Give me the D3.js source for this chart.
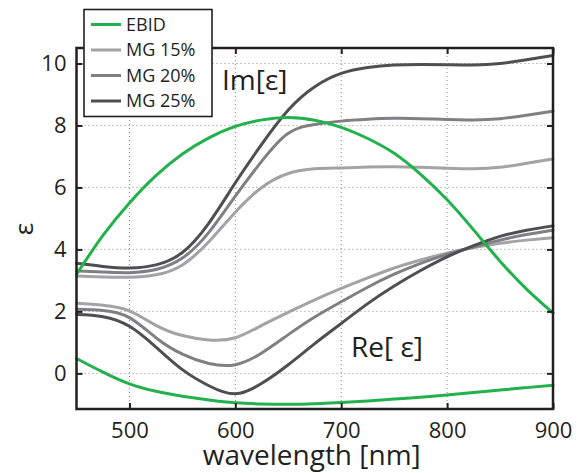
<!DOCTYPE html>
<html>
<head>
<meta charset="utf-8">
<script src="https://cdn.jsdelivr.net/npm/d3@7"></script>
<style>
  html, body { margin: 0; padding: 0; background: #fff; }
  svg { display: block; font-family: "Open Sans", sans-serif; }
</style>
</head>
<body>
<svg id="chart" width="579" height="473"></svg>
<script>
// ---- data ----
const wavelength = [450,475,500,525,550,575,600,625,650,675,700,725,750,775,800,825,850,875,900];

const ebidIm = [3.2,4.45,5.5,6.38,7.08,7.6,7.97,8.18,8.26,8.17,7.94,7.58,7.1,6.42,5.6,4.63,3.62,2.72,1.95];
const ebidRe = [0.48,0.04,-0.34,-0.58,-0.74,-0.86,-0.95,-0.99,-1.0,-0.98,-0.94,-0.89,-0.83,-0.77,-0.70,-0.62,-0.54,-0.46,-0.38];

const mg15Im = [3.14,3.11,3.10,3.18,3.5,4.25,5.2,6.0,6.45,6.6,6.63,6.66,6.67,6.65,6.62,6.6,6.65,6.78,6.92];
const mg20Im = [3.31,3.27,3.25,3.35,3.72,4.55,5.72,6.85,7.75,8.03,8.14,8.2,8.23,8.22,8.19,8.18,8.22,8.33,8.46];
const mg25Im = [3.55,3.45,3.40,3.5,3.9,4.85,6.15,7.4,8.5,9.25,9.68,9.87,9.95,9.97,9.96,9.95,10.0,10.12,10.26];

const mg15Re = [2.26,2.2,2.02,1.55,1.22,1.08,1.15,1.55,1.97,2.37,2.74,3.08,3.4,3.66,3.88,4.06,4.2,4.3,4.38];
const mg20Re = [2.07,2.03,1.8,1.15,0.62,0.32,0.28,0.66,1.25,1.82,2.31,2.78,3.2,3.55,3.84,4.08,4.3,4.48,4.62];
const mg25Re = [1.9,1.83,1.52,0.85,0.12,-0.4,-0.66,-0.32,0.28,0.96,1.61,2.25,2.82,3.32,3.76,4.12,4.42,4.62,4.76];

const xTicks = [500,600,700,800,900];
const yTicks = [0,2,4,6,8,10];
const legendLabels = ["EBID","MG 15%","MG 20%","MG 25%"];
const colors = ["#22b14c","#a3a3a5","#808083","#4f4f52"];

// ---- layout ----
const svg = d3.select("#chart");
const L = 76.5, R = 553, T = 48, B = 409;
const x = d3.scaleLinear().domain([450,900]).range([L,R]);
const y = d3.scaleLinear().domain([-1.15,10.5]).range([B,T]);
const ink = "#231f20";

// grid
const grid = svg.append("g");
grid.selectAll(".gx").data(xTicks.filter(d => d < 900)).enter().append("line")
  .attr("x1", d => x(d)).attr("x2", d => x(d)).attr("y1", T).attr("y2", B)
  .attr("stroke", "#8a8a8a").attr("stroke-width", 1).attr("stroke-dasharray", "1,3");
grid.selectAll(".gy").data(yTicks).enter().append("line")
  .attr("x1", L).attr("x2", R).attr("y1", d => y(d)).attr("y2", d => y(d))
  .attr("stroke", "#8a8a8a").attr("stroke-width", 1).attr("stroke-dasharray", "1,3");

// lines
const line = d3.line().x((d,i) => x(wavelength[i])).y(d => y(d)).curve(d3.curveNatural);
const series = [
  {v: ebidIm, c: 0}, {v: ebidRe, c: 0},
  {v: mg15Im, c: 1}, {v: mg15Re, c: 1},
  {v: mg20Im, c: 2}, {v: mg20Re, c: 2},
  {v: mg25Im, c: 3}, {v: mg25Re, c: 3}
];
const order = [2,3,4,5,6,7,0,1];
const lg = svg.append("g");
order.forEach(k => {
  const s = series[k];
  lg.append("path").attr("d", line(s.v)).attr("fill", "none")
    .attr("stroke", colors[s.c]).attr("stroke-width", 3).attr("stroke-linecap", "round");
});

// axes (box style, inward ticks)
const tl = 6;
const axB = svg.append("g").attr("transform", `translate(0,${B})`)
  .call(d3.axisBottom(x).tickValues(xTicks).tickSizeInner(-tl).tickSizeOuter(0).tickPadding(13).tickFormat(d3.format("d")));
const axT = svg.append("g").attr("transform", `translate(0,${T})`)
  .call(d3.axisTop(x).tickValues(xTicks).tickSizeInner(-tl).tickSizeOuter(0).tickFormat(""));
const axL = svg.append("g").attr("transform", `translate(${L},0)`)
  .call(d3.axisLeft(y).tickValues(yTicks).tickSizeInner(-tl).tickSizeOuter(0).tickPadding(10).tickFormat(d3.format("d")));
const axR = svg.append("g").attr("transform", `translate(${R},0)`)
  .call(d3.axisRight(y).tickValues(yTicks).tickSizeInner(-tl).tickSizeOuter(0).tickFormat(""));
[axB, axT, axL, axR].forEach(a => {
  a.select(".domain").remove();
  a.selectAll(".tick line").attr("stroke", ink).attr("stroke-width", 2);
  a.selectAll("text").attr("fill", ink).style("font-size", "22px").style("font-family", "'Open Sans', sans-serif");
});
axB.selectAll("text").attr("dy", "0.71em");
svg.append("rect").attr("x", L).attr("y", T).attr("width", R - L).attr("height", B - T)
  .attr("fill", "none").attr("stroke", ink).attr("stroke-width", 2.5);

// axis titles
svg.append("text").attr("x", (L + R) / 2 - 3).attr("y", 465).attr("text-anchor", "middle")
  .attr("fill", ink).style("font-size", "28px").text("wavelength [nm]");
svg.append("text").attr("transform", "translate(33,229) rotate(-90)").attr("text-anchor", "middle")
  .attr("fill", ink).style("font-size", "26px").text("ε");

// annotations
svg.append("text").attr("x", 222).attr("y", 90).attr("fill", ink).style("font-size", "28px").text("Im[ε]");
svg.append("text").attr("x", 351).attr("y", 357).attr("fill", ink).style("font-size", "28px").text("Re[ ε]");

// legend
const leg = svg.append("g");
leg.append("rect").attr("x", 84).attr("y", 9.5).attr("width", 128).attr("height", 107)
  .attr("fill", "#fff").attr("stroke", ink).attr("stroke-width", 1.6);
legendLabels.forEach((lab, i) => {
  const cy = 24.5 + i * 25.5;
  leg.append("line").attr("x1", 91).attr("x2", 121).attr("y1", cy).attr("y2", cy)
    .attr("stroke", colors[i]).attr("stroke-width", 3);
  leg.append("text").attr("x", 126).attr("y", cy).attr("dy", "0.36em")
    .attr("fill", ink).style("font-size", "18px").text(lab);
});
</script>
</body>
</html>
